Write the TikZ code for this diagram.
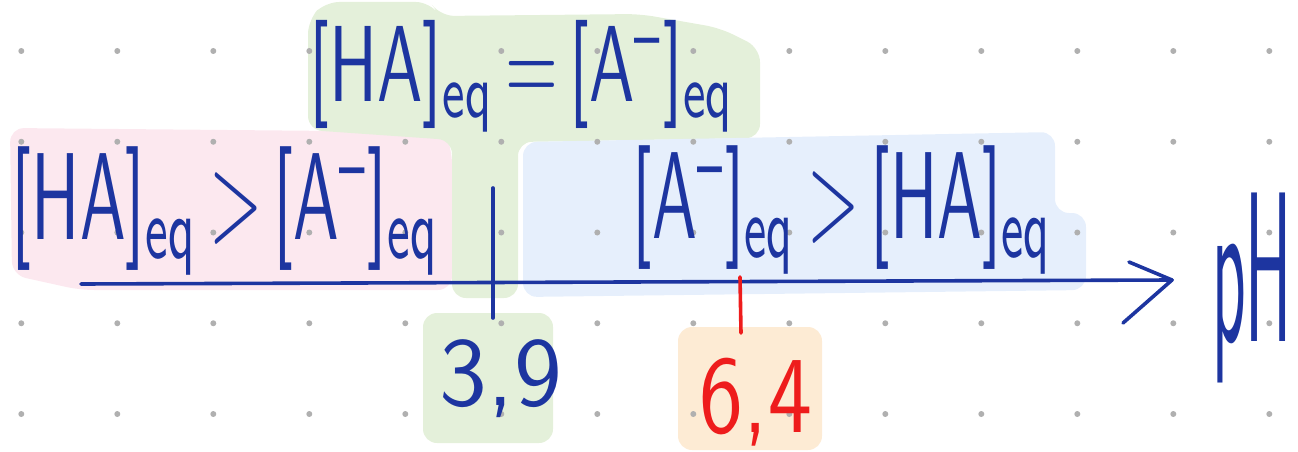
\documentclass[tikz,border=0pt]{standalone}
\usepackage{graphicx}
\definecolor{ink}{HTML}{1D35A0}
\definecolor{redink}{HTML}{EE1C1C}
\definecolor{pinkbg}{HTML}{FCE8EF}
\definecolor{greenbg}{HTML}{E4F0DA}
\definecolor{bluebg}{HTML}{E6EFFC}
\definecolor{orangebg}{HTML}{FDEBD4}
\definecolor{dotgray}{HTML}{B0B0B0}
\newcommand{\conc}[1]{[#1]\textsubscript{eq}}
\newcommand{\anion}{A\textsuperscript{--}}
\tikzset{
  blob/.style={rounded corners=14pt},
  hand/.style={inner sep=0pt, outer sep=0pt, anchor=center, font=\sffamily},
  stroke/.style={line width=3.6pt, line cap=round, line join=round},
}
\begin{document}
\begin{tikzpicture}[x=1pt,y=-1pt]
\useasboundingbox (0,0) rectangle (1298,452);
% backgrounds
\fill[pinkbg, blob] (10,128) -- (445,132) -- (452,150) -- (452,290) -- (80,290) -- (12,275) -- cycle;
\fill[greenbg, blob] (308,20) -- (325,2) -- (430,2) -- (440,16) -- (640,14) -- (720,28) -- (760,48) -- (760,138) -- (518,142) -- (518,298) -- (452,298) -- (452,140) -- (308,130) -- cycle;
\fill[greenbg, blob] (423,313) rectangle (553,443);
\fill[bluebg, blob] (523,142) -- (1055,132) -- (1055,213) -- (1086,213) -- (1086,290) -- (523,297) -- cycle;
\fill[orangebg, blob] (678,327) rectangle (822,450);
% dot grid
\foreach \i in {0,...,13}
  \foreach \j in {0,...,4}
    \fill[dotgray] ({21.3+96*\i},{51+90.75*\j}) circle (3pt);
% axis
\coordinate (axstart) at (81,284);
\coordinate (tip) at (1172,280);
\coordinate (armup) at (1129,262);
\coordinate (armdown) at (1123,323);
\draw[ink, stroke] (axstart) -- (tip);
\draw[ink, stroke] (armup) -- (tip) -- (armdown);
% ticks
\coordinate (t1top) at (493,188);
\coordinate (t1bot) at (493,318);
\draw[ink, stroke] (t1top) -- (t1bot);
\coordinate (t2top) at (740,277);
\coordinate (t2bot) at (741,333);
\draw[redink, stroke] (t2top) -- (t2bot);
% texts
\node[hand, text=ink] (eqtext) at (522.5,76)
  {\resizebox*{425pt}{112pt}{\conc{HA}\,=\,\conc{\anion}}};
\node[hand, text=ink] (lefttext) at (226,211)
  {\resizebox*{428pt}{128pt}{\conc{HA}\,$>$\,\conc{\anion}}};
\node[hand, text=ink] (righttext) at (843,210)
  {\resizebox*{420pt}{128pt}{\conc{\anion}\,$>$\,\conc{HA}}};
\node[hand, text=ink] (ph) at (1252,288)
  {\resizebox*{80pt}{190pt}{pH}};
\node[hand, text=ink] (pka1) at (501,379)
  {\resizebox*{122pt}{78pt}{3,9}};
\node[hand, text=redink] (pka2) at (756,402)
  {\resizebox*{112pt}{88pt}{6,4}};
\end{tikzpicture}
\end{document}
